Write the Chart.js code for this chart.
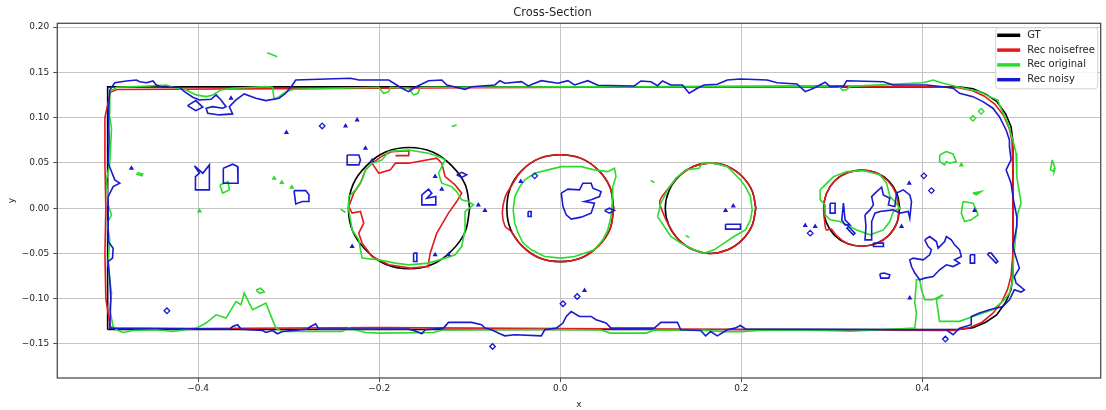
<!DOCTYPE html>
<html>
<head>
<meta charset="utf-8">
<script src="https://cdn.jsdelivr.net/npm/chart.js@4.4.1/dist/chart.umd.min.js"></script>
<style>
html,body{margin:0;padding:0;background:#fff}
canvas{display:block}
</style>
</head>
<body>
<canvas id="grafico" width="1106" height="410"></canvas>
<script>
// series
const seriesNames=['GT','Rec noisefree','Rec original','Rec noisy']
const seriesColors=['#000000','#e3191e','#2bdb2b','#1a1acf']

// ticks
const xTickVals=[-0.4,-0.2,0,0.2,0.4]
const xTickLabels=['\u22120.4','\u22120.2','0.0','0.2','0.4']
const yTickVals=[-0.15,-0.10,-0.05,0,0.05,0.10,0.15,0.20]
const yTickLabels=['\u22120.15','\u22120.10','\u22120.05','0.00','0.05','0.10','0.15','0.20']

// GT
const gtFrame=[[-0.5,-0.134],[-0.5,0.134],[0.44,0.134],[0.456,0.132],[0.47,0.126],[0.482,0.118],[0.492,0.104],[0.498,0.09],[0.5,0.074],[0.5,-0.074],[0.498,-0.09],[0.492,-0.104],[0.482,-0.118],[0.47,-0.126],[0.456,-0.132],[0.44,-0.134],[-0.5,-0.134]]
const gtCircle1=[[-0.1,0],[-0.105,0.026],[-0.12,0.047],[-0.141,0.062],[-0.167,0.067],[-0.193,0.062],[-0.214,0.047],[-0.229,0.026],[-0.234,0],[-0.229,-0.026],[-0.214,-0.047],[-0.193,-0.062],[-0.167,-0.067],[-0.141,-0.062],[-0.12,-0.047],[-0.105,-0.026],[-0.1,0]]
const gtCircle2=[[0.059,0],[0.055,0.023],[0.042,0.042],[0.023,0.055],[0,0.059],[-0.023,0.055],[-0.042,0.042],[-0.055,0.023],[-0.059,0],[-0.055,-0.023],[-0.042,-0.042],[-0.023,-0.055],[0,-0.059],[0.023,-0.055],[0.042,-0.042],[0.055,-0.023],[0.059,0]]
const gtCircle3=[[0.216,0],[0.212,0.019],[0.201,0.035],[0.185,0.046],[0.166,0.05],[0.147,0.046],[0.131,0.035],[0.12,0.019],[0.116,0],[0.12,-0.019],[0.131,-0.035],[0.147,-0.046],[0.166,-0.05],[0.185,-0.046],[0.201,-0.035],[0.212,-0.019],[0.216,0]]
const gtCircle4=[[0.375,0],[0.372,0.016],[0.363,0.03],[0.349,0.039],[0.333,0.042],[0.317,0.039],[0.303,0.03],[0.294,0.016],[0.291,0],[0.294,-0.016],[0.303,-0.03],[0.317,-0.039],[0.333,-0.042],[0.349,-0.039],[0.363,-0.03],[0.372,-0.016],[0.375,0]]

// Rec noisefree
const redFrame=[[-0.497,-0.131],[-0.502,-0.1],[-0.503,-0.05],[-0.502,0],[-0.503,0.05],[-0.503,0.1],[-0.497,0.128],[-0.49,0.131],[-0.3,0.132],[-0.1,0.133],[0.1,0.134],[0.3,0.135],[0.42,0.134],[0.44,0.133],[0.455,0.13],[0.468,0.124],[0.48,0.115],[0.49,0.102],[0.496,0.088],[0.499,0.075],[0.5,0.04],[0.5,-0.05],[0.498,-0.075],[0.494,-0.09],[0.488,-0.103],[0.478,-0.116],[0.466,-0.126],[0.452,-0.132],[0.435,-0.135],[0.42,-0.135],[0.2,-0.134],[0,-0.133],[-0.2,-0.132],[-0.4,-0.133],[-0.49,-0.133],[-0.497,-0.131]]
const redCircle1=[[-0.1455,-0.0607],[-0.1437,-0.0497],[-0.1364,-0.0276],[-0.1235,-0.0055],[-0.1144,0.0073],[-0.1089,0.0166],[-0.1162,0.0257],[-0.1272,0.0349],[-0.1309,0.0497],[-0.1364,0.0552],[-0.1675,0.0497],[-0.1822,0.0497],[-0.1877,0.0423],[-0.2005,0.0386],[-0.2079,0.0497],[-0.2152,0.0423],[-0.2207,0.0276],[-0.2281,0.0166],[-0.2336,0.0018],[-0.2299,-0.0055],[-0.2207,-0.0037],[-0.2171,-0.0166],[-0.2226,-0.0276],[-0.2189,-0.0386],[-0.2079,-0.0534],[-0.1895,-0.0626],[-0.1657,-0.0662],[-0.1455,-0.0644],[-0.1455,-0.0607]]
const redArc1=[[-0.2079,0.0497],[-0.196,0.058],[-0.186,0.0625],[-0.167,0.0635],[-0.1675,0.058],[-0.182,0.058]]
const redCircle2=[[0.059,0],[0.055,0.023],[0.042,0.042],[0.023,0.055],[0,0.059],[-0.023,0.055],[-0.042,0.042],[-0.055,0.023],[-0.061,0.012],[-0.064,-0.005],[-0.061,-0.02],[-0.055,-0.025],[-0.042,-0.042],[-0.023,-0.055],[0,-0.059],[0.023,-0.055],[0.042,-0.042],[0.055,-0.023],[0.059,0]]
const redCircle3=[[0.216,0],[0.212,0.019],[0.201,0.035],[0.185,0.046],[0.166,0.05],[0.147,0.046],[0.131,0.035],[0.118,0.02],[0.11,0.008],[0.113,-0.004],[0.12,-0.019],[0.131,-0.035],[0.147,-0.046],[0.166,-0.05],[0.185,-0.046],[0.201,-0.035],[0.212,-0.019],[0.216,0]]
const redCircle4=[[0.374,0],[0.371,0.016],[0.362,0.03],[0.349,0.039],[0.333,0.042],[0.317,0.039],[0.303,0.03],[0.294,0.016],[0.291,0],[0.292,-0.014],[0.294,-0.024],[0.299,-0.023],[0.305,-0.03],[0.317,-0.039],[0.333,-0.042],[0.349,-0.039],[0.363,-0.03],[0.372,-0.016],[0.374,0]]

// Rec original
const greenFrame=[[-0.4976,0.1287],[-0.4902,0.1336],[-0.4536,0.135],[-0.4352,0.1361],[-0.4279,0.1336],[-0.4132,0.1306],[-0.4022,0.1251],[-0.3912,0.1232],[-0.3839,0.1251],[-0.3747,0.1306],[-0.3619,0.1325],[-0.3252,0.1342],[-0.3179,0.1336],[-0.3161,0.1203],[-0.3106,0.1232],[-0.3032,0.1287],[-0.2941,0.1313],[-0.2005,0.1336],[-0.1951,0.1269],[-0.1895,0.1287],[-0.1877,0.1336],[-0.1675,0.1325],[-0.162,0.1251],[-0.1573,0.1269],[-0.1547,0.1336],[0,0.134],[0.2,0.1342],[0.308,0.1345],[0.312,0.13],[0.3165,0.131],[0.32,0.1345],[0.4009,0.1386],[0.4119,0.1416],[0.4229,0.138],[0.4411,0.1336],[0.4631,0.1287],[0.4741,0.1232],[0.4834,0.1195],[0.4851,0.114],[0.4944,0.0938],[0.4999,0.0754],[0.5035,0.0607],[0.5043,0.0349],[0.5079,0.0128],[0.509,0.0055],[0.5054,-0.0055],[0.5035,-0.0276],[0.5006,-0.0571],[0.4999,-0.0791],[0.4962,-0.0938],[0.4907,-0.1012],[0.478,-0.112],[0.456,-0.1196],[0.441,-0.125],[0.419,-0.1251],[0.4155,-0.1012],[0.4229,-0.0957],[0.4119,-0.1012],[0.4026,-0.1012],[0.399,-0.0902],[0.3971,-0.0791],[0.3935,-0.0791],[0.3916,-0.1049],[0.3935,-0.1159],[0.3916,-0.1325],[0.35,-0.1345],[0.32,-0.136],[0.29,-0.135],[0.25,-0.1345],[0.22,-0.135],[0.2,-0.1365],[0.18,-0.1365],[0.16,-0.135],[0.104,-0.1345],[0.095,-0.138],[0.055,-0.138],[0.045,-0.1345],[-0.02,-0.134],[-0.13,-0.1345],[-0.14,-0.1373],[-0.2,-0.138],[-0.2152,-0.1373],[-0.2336,-0.1325],[-0.2409,-0.1362],[-0.3069,-0.1362],[-0.3142,-0.1325],[-0.3252,-0.1049],[-0.3326,-0.1086],[-0.3399,-0.1122],[-0.3491,-0.0938],[-0.3527,-0.1067],[-0.3582,-0.1031],[-0.3692,-0.1214],[-0.3802,-0.1178],[-0.3912,-0.1269],[-0.4022,-0.1325],[-0.4279,-0.1362],[-0.4462,-0.1343],[-0.4719,-0.1351],[-0.4829,-0.1373],[-0.4902,-0.1343],[-0.4939,-0.1307],[-0.4976,-0.1122],[-0.4957,-0.0938],[-0.4976,-0.0791],[-0.4994,-0.0607],[-0.4976,-0.035],[-0.5005,-0.0166],[-0.4957,-0.0074],[-0.4994,0.0036],[-0.5012,0.0312],[-0.4976,0.0497],[-0.4957,0.0883],[-0.4984,0.1049],[-0.4976,0.1287]]
const greenCircle1=[[-0.2336,-0.0019],[-0.2336,0.0128],[-0.2262,0.0202],[-0.2189,0.0312],[-0.2152,0.0423],[-0.2079,0.0497],[-0.1969,0.0533],[-0.1895,0.0625],[-0.1675,0.0643],[-0.1455,0.0607],[-0.1345,0.057],[-0.1272,0.0533],[-0.1309,0.0459],[-0.1345,0.0386],[-0.1309,0.0276],[-0.1199,0.0238],[-0.1144,0.0183],[-0.1089,0.0092],[-0.1015,0.0073],[-0.096,0.0036],[-0.1052,-0.0037],[-0.1052,-0.024],[-0.1089,-0.0424],[-0.1162,-0.0515],[-0.1272,-0.0552],[-0.1455,-0.0607],[-0.1675,-0.0626],[-0.1822,-0.0607],[-0.2005,-0.0571],[-0.2189,-0.0552],[-0.2207,-0.046],[-0.2226,-0.035],[-0.2299,-0.024],[-0.2317,-0.0129],[-0.2336,-0.0019]]
const greenCircle2=[[-0.0502,-0.0166],[-0.052,-0.0019],[-0.0502,0.0128],[-0.0447,0.0238],[-0.0392,0.0312],[-0.0282,0.0386],[-0.0135,0.0423],[0.0011,0.0459],[0.0231,0.0459],[0.0378,0.0423],[0.0525,0.0404],[0.0598,0.0441],[0.0616,0.0349],[0.058,0.0238],[0.058,0.0128],[0.0561,-0.0093],[0.0525,-0.024],[0.047,-0.035],[0.0378,-0.046],[0.0158,-0.0534],[0.0011,-0.0552],[-0.0172,-0.0534],[-0.0319,-0.046],[-0.041,-0.0386],[-0.0465,-0.0276],[-0.0502,-0.0166]]
const greenCircle3=[[0.1075,-0.0093],[0.1111,0.0055],[0.1185,0.0202],[0.1276,0.0331],[0.1386,0.0423],[0.1534,0.0441],[0.157,0.0497],[0.1699,0.0497],[0.1845,0.0459],[0.1919,0.0386],[0.1991,0.0312],[0.2046,0.0238],[0.2101,0.0128],[0.212,-0.0019],[0.2101,-0.0129],[0.2046,-0.024],[0.1919,-0.0313],[0.1809,-0.0386],[0.1699,-0.046],[0.1589,-0.0497],[0.1479,-0.046],[0.1331,-0.0386],[0.1221,-0.0313],[0.1148,-0.0203],[0.1075,-0.0093]]
const greenCircle4=[[0.2871,0.0202],[0.2945,0.0276],[0.3019,0.0349],[0.3165,0.0404],[0.3349,0.0415],[0.3531,0.0368],[0.3605,0.0276],[0.3641,0.0128],[0.3696,0.0073],[0.3751,0],[0.3679,-0.0037],[0.3641,-0.0148],[0.3569,-0.024],[0.3421,-0.0295],[0.3275,-0.024],[0.3201,-0.0203],[0.3091,-0.0148],[0.2981,-0.0129],[0.2926,-0.0074],[0.2926,0.0036],[0.2871,0.0092],[0.2871,0.0202]]
const greenDash1=[[-0.3236,0.1717],[-0.3126,0.1673]]
const greenBlobL=[[-0.4667,0.0393],[-0.4612,0.0375],[-0.4621,0.0357],[-0.4676,0.0375],[-0.4667,0.0393]]
const greenShape2=[[-0.376,0.0257],[-0.367,0.0293],[-0.3656,0.0202],[-0.3729,0.0166],[-0.376,0.0257]]
const greenDash2=[[-0.2427,-0.0011],[-0.2372,-0.0048]]
const greenDash3=[[-0.1199,0.0901],[-0.1144,0.0919]]
const greenDash4=[[0.1,0.0305],[0.104,0.0283]]
const greenDash5=[[0.1385,-0.03],[0.1425,-0.0326]]
const greenBlobR1=[[0.4191,0.0588],[0.4265,0.0625],[0.4339,0.0599],[0.4375,0.0514],[0.4301,0.0497],[0.4265,0.0514],[0.4246,0.0478],[0.4191,0.0514],[0.4191,0.0588]]
const greenBlobR2=[[0.4449,0.0073],[0.4559,0.0055],[0.4595,-0.0019],[0.4614,-0.0074],[0.454,-0.0129],[0.4466,-0.0148],[0.443,-0.0055],[0.4449,0.0073]]
const greenDashR=[[0.4559,0.0166],[0.465,0.0183],[0.4595,0.0148],[0.4559,0.0166]]
const greenLeaf=[[0.5435,0.0533],[0.5465,0.0441],[0.5455,0.0404],[0.5415,0.0423],[0.5435,0.0533]]
const greenLoopBL=[[-0.336,-0.0905],[-0.331,-0.0885],[-0.327,-0.0925],[-0.332,-0.094],[-0.336,-0.0905]]
const greenDiamonds=[[0.4559,0.0993],[0.465,0.107]]
const greenTriangles=[[-0.316,0.0331],[-0.3076,0.0283],[-0.2966,0.0232],[-0.3986,-0.003],[0.443,0.0478]]

// Rec noisy
const blueFrame=[[-0.4976,0.1306],[-0.4921,0.1386],[-0.4792,0.1405],[-0.4682,0.1416],[-0.4646,0.1397],[-0.4572,0.1386],[-0.4499,0.1405],[-0.4462,0.1361],[-0.4389,0.1336],[-0.4206,0.1336],[-0.4151,0.1287],[-0.4059,0.1225],[-0.3986,0.1195],[-0.3857,0.1203],[-0.3802,0.1251],[-0.3747,0.1195],[-0.3692,0.1121],[-0.3729,0.1104],[-0.3839,0.1121],[-0.3912,0.1104],[-0.3894,0.1049],[-0.3766,0.103],[-0.3619,0.1041],[-0.3656,0.1121],[-0.3582,0.1195],[-0.3491,0.1262],[-0.3362,0.1214],[-0.3252,0.1188],[-0.3106,0.1214],[-0.3032,0.1269],[-0.2959,0.1361],[-0.2922,0.1416],[-0.2666,0.1424],[-0.2317,0.1435],[-0.2225,0.1416],[-0.1895,0.1416],[-0.1749,0.1325],[-0.1675,0.1287],[-0.1602,0.1336],[-0.1455,0.1408],[-0.1309,0.1416],[-0.1254,0.1361],[-0.1052,0.1313],[-0.0979,0.1342],[-0.0722,0.1361],[-0.0667,0.1408],[-0.0612,0.138],[-0.0429,0.1397],[-0.0355,0.135],[-0.0209,0.1408],[-0.0025,0.138],[0.0085,0.1408],[0.0158,0.1361],[0.0305,0.1408],[0.0415,0.1358],[0.0818,0.135],[0.0891,0.1405],[0.1001,0.1397],[0.1075,0.1353],[0.113,0.1405],[0.1221,0.1361],[0.135,0.1361],[0.1424,0.1269],[0.1515,0.1325],[0.1589,0.1361],[0.1735,0.1369],[0.1845,0.1416],[0.1991,0.1427],[0.2285,0.1416],[0.2395,0.1386],[0.2615,0.1372],[0.2706,0.1287],[0.2799,0.1325],[0.2926,0.1391],[0.2981,0.1342],[0.3129,0.135],[0.3165,0.1408],[0.3569,0.1397],[0.3679,0.1361],[0.4045,0.1361],[0.4229,0.1342],[0.4339,0.1325],[0.4411,0.1269],[0.4559,0.1232],[0.4669,0.1177],[0.4779,0.1104],[0.4851,0.1011],[0.4925,0.0864],[0.4962,0.0754],[0.4962,0.068],[0.498,0.0533],[0.4925,0.0423],[0.498,0.0276],[0.5006,0.0092],[0.5043,-0.0093],[0.5043,-0.0203],[0.4999,-0.0424],[0.5043,-0.0571],[0.5072,-0.0662],[0.5016,-0.0755],[0.5035,-0.0828],[0.5127,-0.0902],[0.509,-0.0927],[0.5016,-0.0902],[0.4962,-0.1012],[0.4889,-0.1086],[0.4741,-0.1122],[0.4631,-0.1159],[0.454,-0.1196],[0.454,-0.1288],[0.4411,-0.1325],[0.4339,-0.1398],[0.4265,-0.1343],[0.4045,-0.1343],[0.205,-0.1336],[0.199,-0.1296],[0.193,-0.1325],[0.1845,-0.1343],[0.1735,-0.141],[0.1661,-0.1362],[0.1606,-0.141],[0.1551,-0.1351],[0.1331,-0.1343],[0.1295,-0.1262],[0.1111,-0.1262],[0.1039,-0.1325],[0.0561,-0.1325],[0.0506,-0.1269],[0.0396,-0.1233],[0.0341,-0.1196],[0.0213,-0.1196],[0.0121,-0.1141],[0.0066,-0.1196],[0.003,-0.1269],[-0.0044,-0.1325],[-0.0172,-0.1343],[-0.0209,-0.141],[-0.0502,-0.1398],[-0.0612,-0.141],[-0.0667,-0.1387],[-0.0759,-0.1343],[-0.0832,-0.1325],[-0.0869,-0.1288],[-0.0979,-0.1262],[-0.1235,-0.1262],[-0.129,-0.1325],[-0.1492,-0.1343],[-0.1529,-0.1387],[-0.1584,-0.1362],[-0.1675,-0.1336],[-0.2666,-0.1336],[-0.2702,-0.1277],[-0.2757,-0.1307],[-0.28,-0.1336],[-0.3069,-0.1362],[-0.3124,-0.1387],[-0.3179,-0.1351],[-0.3252,-0.1373],[-0.3289,-0.1351],[-0.3527,-0.1336],[-0.3564,-0.1288],[-0.3619,-0.1307],[-0.365,-0.1336],[-0.4976,-0.1325],[-0.4965,-0.1],[-0.4976,-0.0791],[-0.4994,-0.0589],[-0.4946,-0.0552],[-0.4939,-0.0442],[-0.4994,-0.0369],[-0.4994,0.0128],[-0.4939,0.0238],[-0.4866,0.0276],[-0.4921,0.0312],[-0.4994,0.0497],[-0.4984,0.0754],[-0.499,0.11],[-0.4976,0.1306]]
const blueLoopA=[[-0.4117,0.1133],[-0.4026,0.1188],[-0.3949,0.1116],[-0.4026,0.1077],[-0.4117,0.1133]]
const blueBowtie=[[-0.4041,0.0467],[-0.3949,0.0386],[-0.3876,0.0478],[-0.3876,0.0202],[-0.403,0.0202],[-0.403,0.0349],[-0.3986,0.0386],[-0.4041,0.0467]]
const blueSquare=[[-0.3722,0.0441],[-0.3619,0.0486],[-0.3564,0.0459],[-0.356,0.0276],[-0.3722,0.0276],[-0.3722,0.0441]]
const blueBlobL=[[-0.2941,0.0194],[-0.2812,0.0194],[-0.2776,0.0147],[-0.2776,0.0073],[-0.2849,0.0073],[-0.2922,0.0047],[-0.2941,0.0194]]
const blueBox1=[[-0.2354,0.0588],[-0.2225,0.0588],[-0.2207,0.0533],[-0.2225,0.0478],[-0.2354,0.0478],[-0.2354,0.0588]]
const blueC=[[-0.1529,0.0147],[-0.1455,0.021],[-0.1419,0.0166],[-0.1474,0.011],[-0.1375,0.0128],[-0.1375,0.0036],[-0.1529,0.0036],[-0.1529,0.0147]]
const blueEll1=[[-0.1144,0.0368],[-0.1089,0.0395],[-0.1034,0.0368],[-0.1089,0.034],[-0.1144,0.0368]]
const blueThin1=[[-0.162,-0.0497],[-0.1584,-0.0497],[-0.1584,-0.0589],[-0.162,-0.0589],[-0.162,-0.0497]]
const bluePac=[[0.0011,0.0166],[0.0085,0.021],[0.0213,0.0202],[0.025,0.0276],[0.0341,0.0276],[0.036,0.0221],[0.0451,0.0183],[0.0433,0.0128],[0.0341,0.0092],[0.0268,0.0073],[0.0378,0.0055],[0.0341,-0.0055],[0.0231,-0.0099],[0.0121,-0.0121],[0.0066,-0.0074],[0.003,0.0018],[0.0011,0.0166]]
const blueSmall2=[[-0.0355,-0.0037],[-0.0322,-0.0037],[-0.0322,-0.0092],[-0.0355,-0.0092],[-0.0355,-0.0037]]
const blueEll2=[[0.0488,-0.0027],[0.0543,0],[0.0598,-0.0027],[0.0543,-0.0055],[0.0488,-0.0027]]
const blueRect3=[[0.1826,-0.0177],[0.1991,-0.0177],[0.1991,-0.0232],[0.1826,-0.0232],[0.1826,-0.0177]]
const blueThin4a=[[0.2981,0.0055],[0.3036,0.0055],[0.3036,-0.0055],[0.2981,-0.0055],[0.2981,0.0055]]
const blueShape4b=[[0.3128,0.0055],[0.3146,-0.0129],[0.3201,-0.0185],[0.3146,-0.0185],[0.311,-0.0129],[0.3128,0.0055]]
const blueThin4c=[[0.3184,-0.0203],[0.3256,-0.0277],[0.3238,-0.0295],[0.3166,-0.0221],[0.3184,-0.0203]]
const blueNoise4=[[0.3366,-0.0074],[0.3421,-0.0019],[0.3459,0.0036],[0.344,0.0128],[0.3495,0.0183],[0.355,0.0232],[0.3569,0.0147],[0.3641,0.011],[0.3624,0.0036],[0.3696,0.0018],[0.3715,0.0166],[0.3789,0.0202],[0.3861,0.0147],[0.388,0.0073],[0.3861,-0.011],[0.3844,-0.0037],[0.3751,-0.0055],[0.3679,-0.0019],[0.3531,-0.0037],[0.3476,-0.0055],[0.344,-0.0148],[0.344,-0.035],[0.3366,-0.035],[0.3377,-0.0203],[0.3366,-0.0074]]
const blueSmall4d=[[0.346,-0.0386],[0.357,-0.0386],[0.357,-0.0424],[0.346,-0.0424],[0.346,-0.0386]]
const blueBlobBR=[[0.4026,-0.035],[0.4081,-0.0313],[0.4155,-0.0369],[0.4174,-0.0442],[0.4246,-0.0369],[0.4265,-0.0313],[0.432,-0.035],[0.4356,-0.0405],[0.4411,-0.046],[0.443,-0.0534],[0.4356,-0.0571],[0.4411,-0.0607],[0.4339,-0.0645],[0.4265,-0.0626],[0.4191,-0.0681],[0.4119,-0.0755],[0.4026,-0.0773],[0.3971,-0.0791],[0.3916,-0.0717],[0.388,-0.0645],[0.3861,-0.0571],[0.3898,-0.0552],[0.4009,-0.0571],[0.4081,-0.0515],[0.41,-0.046],[0.4064,-0.0424],[0.4026,-0.035]]
const blueThinBR1=[[0.4529,-0.0515],[0.4577,-0.0515],[0.4577,-0.0607],[0.4529,-0.0607],[0.4529,-0.0515]]
const blueThinBR2=[[0.4724,-0.0497],[0.4761,-0.0497],[0.4834,-0.0589],[0.4815,-0.0607],[0.4724,-0.0515],[0.4724,-0.0497]]
const blueSmallBR3=[[0.353,-0.0725],[0.358,-0.0717],[0.364,-0.0735],[0.363,-0.0773],[0.354,-0.0773],[0.353,-0.0725]]
const blueDiamonds=[[-0.4345,-0.1134],[-0.263,0.0908],[-0.0282,0.0357],[0.003,-0.1056],[0.0187,-0.0976],[-0.0748,-0.1528],[0.4016,0.0357],[0.41,0.0194],[0.2761,-0.0276],[0.4254,-0.1446]]
const blueTriangles=[[-0.2372,0.0908],[-0.2244,0.0975],[-0.3025,0.0835],[-0.3637,0.1214],[-0.4737,0.0441],[-0.2299,-0.0424],[-0.2152,0.0662],[-0.2079,0.0525],[-0.1382,0.0349],[-0.1309,0.021],[-0.0905,0.0036],[-0.0832,-0.0026],[-0.1382,-0.0515],[-0.1235,-0.0515],[-0.0436,0.0294],[0.1826,-0.0026],[0.1911,0.0025],[0.2706,-0.0192],[0.2816,-0.0203],[0.3855,0.0276],[0.377,-0.0203],[0.3861,-0.0993],[0.0268,-0.0909],[0.4577,-0.0026]]

const contornos=[
[[gtFrame,false],[gtCircle1,true],[gtCircle2,true],[gtCircle3,true],[gtCircle4,true]],
[[redFrame,false],[redCircle1,false],[redArc1,false],[redCircle2,true],[redCircle3,true],[redCircle4,true]],
[[greenFrame,false],[greenCircle1,false],[greenCircle2,false],[greenCircle3,false],[greenCircle4,false],[greenDash1,false],[greenBlobL,false],[greenShape2,false],[greenDash2,false],[greenDash3,false],[greenDash4,false],[greenDash5,false],[greenBlobR1,false],[greenBlobR2,false],[greenDashR,false],[greenLeaf,false],[greenLoopBL,false]],
[[blueFrame,false],[blueLoopA,false],[blueBowtie,false],[blueSquare,false],[blueBlobL,false],[blueBox1,false],[blueC,false],[blueEll1,false],[blueThin1,false],[bluePac,false],[blueSmall2,false],[blueEll2,false],[blueRect3,false],[blueThin4a,false],[blueShape4b,false],[blueThin4c,false],[blueNoise4,false],[blueSmall4d,false],[blueBlobBR,false],[blueThinBR1,false],[blueThinBR2,false],[blueSmallBR3,false]]
]

const marcas=[
[2,greenDiamonds,'rectRot'],
[2,greenTriangles,'triangle'],
[3,blueDiamonds,'rectRot'],
[3,blueTriangles,'triangle']
]

let datasets=[]

contornos.forEach((lista,s)=>{
lista.forEach(([pts,suave])=>{
datasets.push({
label:seriesNames[s],
data:pts,
showLine:true,
borderColor:seriesColors[s],
backgroundColor:seriesColors[s],
borderWidth:1.6,
pointRadius:0,
tension:suave?0.35:0,
fill:false,
order:4-s
})
})
})

marcas.forEach(([s,pts,estilo])=>{
datasets.push({
label:seriesNames[s],
data:pts,
showLine:false,
pointStyle:estilo,
pointRadius:estilo==='triangle'?1.7:2.8,
borderColor:seriesColors[s],
backgroundColor:estilo==='triangle'?seriesColors[s]:'rgba(0,0,0,0)',
borderWidth:1.3,
order:4-s
})
})

const moldura={
id:'moldura',
afterDatasetsDraw(chart){
let a=chart.chartArea
let c=chart.ctx
c.save()
c.strokeStyle='#4d4d4d'
c.lineWidth=1.3
c.strokeRect(a.left,a.top,a.right-a.left,a.bottom-a.top)
c.restore()
}
}

const legenda={
id:'legenda',
afterDraw(chart){
let a=chart.chartArea
let c=chart.ctx
let w=102,h=61
let x=a.right-w-3.5
let y=a.top+4
c.save()
c.fillStyle='rgba(255,255,255,0.85)'
c.strokeStyle='#d4d4d4'
c.lineWidth=1
c.beginPath()
c.roundRect(x+0.5,y+0.5,w,h,3)
c.fill()
c.stroke()
c.font='10px "DejaVu Sans"'
c.textBaseline='middle'
seriesNames.forEach((n,i)=>{
let ly=y+8+i*14.8
c.strokeStyle=seriesColors[i]
c.lineWidth=3.5
c.beginPath()
c.moveTo(x+2,ly)
c.lineTo(x+25,ly)
c.stroke()
c.fillStyle='#262626'
c.fillText(n,x+32,ly)
})
c.restore()
}
}

new Chart(document.getElementById('grafico'),{
type:'scatter',
data:{datasets:datasets},
options:{
responsive:false,
animation:false,
events:[],
layout:{padding:{left:0,right:1,top:0,bottom:0}},
plugins:{
legend:{display:false},
tooltip:{enabled:false},
title:{
display:true,
text:'Cross-Section',
color:'#262626',
font:{family:'DejaVu Sans',size:11.5,weight:'normal'},
padding:{top:6,bottom:3.5}
}
},
scales:{
x:{
type:'linear',
min:-0.5556,
max:0.597,
afterBuildTicks:(s)=>{s.ticks=xTickVals.map(v=>({value:v}))},
afterFit:(s)=>{s.height=32},
ticks:{
autoSkip:false,
maxRotation:0,
padding:1,
color:'#262626',
font:{family:'DejaVu Sans',size:9},
callback:(v,i)=>xTickLabels[i]
},
grid:{color:'#c4c4c4',lineWidth:1,tickLength:4,tickColor:'#4d4d4d'},
border:{display:false},
title:{display:true,text:'x',color:'#262626',font:{family:'DejaVu Sans',size:9},padding:{top:0,bottom:0}}
},
y:{
type:'linear',
min:-0.1876,
max:0.2042,
afterBuildTicks:(s)=>{s.ticks=yTickVals.map(v=>({value:v}))},
afterFit:(s)=>{s.width=57.3},
ticks:{
autoSkip:false,
padding:4,
color:'#262626',
font:{family:'DejaVu Sans',size:9},
callback:(v,i)=>yTickLabels[i]
},
grid:{color:'#c4c4c4',lineWidth:1,tickLength:4,tickColor:'#4d4d4d'},
border:{display:false},
title:{display:true,text:'y',color:'#262626',font:{family:'DejaVu Sans',size:9},padding:{top:6,bottom:0}}
}
}
},
plugins:[moldura,legenda]
})
</script>
</body>
</html>
